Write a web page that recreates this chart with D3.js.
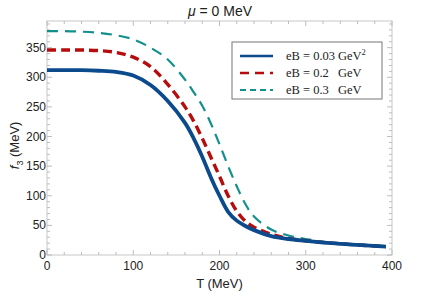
<!DOCTYPE html>
<html>
<head>
<meta charset="utf-8">
<script src="https://cdn.jsdelivr.net/npm/d3@7"></script>
<style>
  body { margin: 0; background: #fff; }
  svg { display: block; }
  .tick-label { font: 12px "Liberation Sans", Arial, sans-serif; fill: #222; }
  .legend text { font: 12.5px "Liberation Serif", "Times New Roman", serif; fill: #222; }
</style>
</head>
<body>
<svg width="436" height="300"></svg>
<script>
// temperature grid (MeV)
const temps = [0, 20, 40, 60, 80, 100, 120, 140, 160, 170, 180, 190, 200, 210, 220, 230, 240, 260, 280, 300, 330, 360, 393]
// f3 (MeV) for each field strength
const f3Low = [312, 312, 312, 311, 309, 303, 287, 260, 223, 197, 166, 131, 100, 73, 58, 49, 42, 32, 27, 24, 20, 17, 14]
const f3Mid = [346, 346, 346, 345, 342, 334, 318, 288, 250, 226, 197, 165, 133, 100, 74, 57, 47, 35, 28, 24, 20, 17, 14]
const f3High = [378, 378, 377, 375, 371, 364, 350, 330, 296, 275, 252, 222, 187, 150, 116, 86, 65, 43, 33, 27, 21, 18, 15]
const seriesNames = ['eB = 0.03', 'eB = 0.2', 'eB = 0.3']
const xTicks = [0, 100, 200, 300, 400]
const yTicks = [0, 50, 100, 150, 200, 250, 300, 350]

const svg = d3.select('svg')
const margin = {left: 47, top: 21, right: 44, bottom: 45}
const width = 436 - margin.left - margin.right
const height = 300 - margin.top - margin.bottom
const g = svg.append('g').attr('transform', 'translate(' + margin.left + ',' + margin.top + ')')

const x = d3.scaleLinear().domain([0, 400]).range([0, width])
const y = d3.scaleLinear().domain([0, 395]).range([height, 0])

// frame
g.append('rect')
  .attr('width', width).attr('height', height)
  .attr('fill', 'none').attr('stroke', '#c8c8c8').attr('stroke-width', 1)

// ticks on all four sides, pointing inward
const tickStroke = '#bdbdbd'
d3.range(0, 401, 20).forEach(t => {
  const len = t % 100 === 0 ? 5 : 3
  g.append('line').attr('x1', x(t)).attr('x2', x(t)).attr('y1', height).attr('y2', height - len).attr('stroke', tickStroke)
  g.append('line').attr('x1', x(t)).attr('x2', x(t)).attr('y1', 0).attr('y2', len).attr('stroke', tickStroke)
})
d3.range(0, 391, 10).forEach(v => {
  const len = v % 50 === 0 ? 5 : 3
  g.append('line').attr('x1', 0).attr('x2', len).attr('y1', y(v)).attr('y2', y(v)).attr('stroke', tickStroke)
  g.append('line').attr('x1', width).attr('x2', width - len).attr('y1', y(v)).attr('y2', y(v)).attr('stroke', tickStroke)
})

g.selectAll('.xl').data(xTicks).enter().append('text')
  .attr('class', 'tick-label')
  .attr('x', d => x(d)).attr('y', height + 15)
  .attr('text-anchor', 'middle')
  .text(d => d)
g.selectAll('.yl').data(yTicks).enter().append('text')
  .attr('class', 'tick-label')
  .attr('x', -1).attr('y', d => y(d) + 4)
  .attr('text-anchor', 'end')
  .text(d => d)

// axis titles
svg.append('text')
  .attr('x', margin.left + x(200)).attr('y', 288)
  .attr('text-anchor', 'middle')
  .style('font', '13px "Liberation Sans", Arial, sans-serif').style('fill', '#222')
  .text('T (MeV)')
const yl = svg.append('text')
  .attr('transform', 'translate(19,' + (margin.top + y(185)) + ') rotate(-90)')
  .attr('text-anchor', 'middle')
  .style('font', '13px "Liberation Sans", Arial, sans-serif').style('fill', '#222')
yl.append('tspan').style('font-style', 'italic').text('f')
yl.append('tspan').attr('dy', 4).style('font-size', '9px').text('3')
yl.append('tspan').attr('dy', -4).text(' (MeV)')

const title = svg.append('text')
  .attr('x', 220).attr('y', 16)
  .attr('text-anchor', 'middle')
  .style('font', '14px "Liberation Sans", Arial, sans-serif').style('fill', '#222')
title.append('tspan').style('font-style', 'italic').text('μ')
title.append('tspan').text(' = 0 MeV')

// curves
const styles = [
  {data: f3Low, color: '#0b4a8c', width: 3.8, dash: null, legendWidth: 2.6},
  {data: f3Mid, color: '#b50d0d', width: 3.4, dash: '9,5', legendWidth: 2.4},
  {data: f3High, color: '#12918c', width: 2.2, dash: '11,7', legendWidth: 2.2}
]
const line = d3.line()
  .curve(d3.curveCatmullRom.alpha(0.5))
  .x(d => x(d[0]))
  .y(d => y(d[1]))

styles.slice().reverse().forEach(s => {
  g.append('path')
    .datum(temps.map((t, i) => [t, s.data[i]]))
    .attr('d', line)
    .attr('fill', 'none')
    .attr('stroke', s.color)
    .attr('stroke-width', s.width)
    .attr('stroke-dasharray', s.dash)
})

// legend
const legend = svg.append('g').attr('class', 'legend')
legend.append('rect')
  .attr('x', 232).attr('y', 42).attr('width', 150).attr('height', 57)
  .attr('fill', '#fff').attr('stroke', '#777').attr('stroke-width', 1)
const dashes = [null, '9,6', '6,4']
styles.forEach((s, i) => {
  const yy = 56 + i * 17
  legend.append('line')
    .attr('x1', 240).attr('x2', 273).attr('y1', yy).attr('y2', yy)
    .attr('stroke', s.color).attr('stroke-width', s.legendWidth)
    .attr('stroke-dasharray', dashes[i])
  const t = legend.append('text').attr('x', 286).attr('y', yy + 4)
  t.append('tspan').text(seriesNames[i])
  t.append('tspan').attr('x', 338).text('GeV')
  if (i === 0) t.append('tspan').attr('dy', -5).style('font-size', '8.5px').text('2')
})
</script>
</body>
</html>
